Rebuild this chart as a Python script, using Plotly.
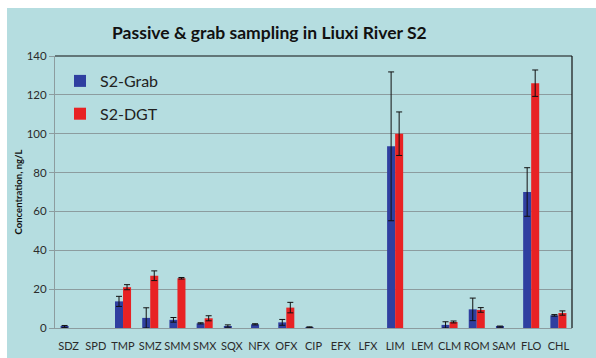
import plotly.graph_objects as go

# Compounds measured at site S2
compounds = ["SDZ", "SPD", "TMP", "SMZ", "SMM", "SMX", "SQX", "NFX", "OFX", "CIP",
             "EFX", "LFX", "LIM", "LEM", "CLM", "ROM", "SAM", "FLO", "CHL"]

# Mean concentrations (ng/L) and standard deviations; None = not detected
grab_mean = [0.8, None, 13.7, 5.2, 4.2, 2.4, 1.0, 1.9, 2.9, 0.4,
             None, None, 93.5, None, 1.6, 9.6, 0.7, 70.0, 6.5]
grab_sd = [0.5, None, 2.6, 5.2, 1.2, 0.3, 0.6, 0.3, 1.5, 0.2,
           None, None, 38.3, None, 1.6, 5.8, 0.3, 12.5, 0.4]
dgt_mean = [None, None, 21.0, 26.9, 25.6, 5.0, None, None, 10.5, None,
            None, None, 100.0, None, 3.1, 9.3, None, 126.0, 7.7]
dgt_sd = [None, None, 1.3, 2.5, 0.4, 1.3, None, None, 2.7, None,
          None, None, 11.2, None, 0.5, 1.2, None, 6.8, 1.1]

BG = "#b5dde0"
GRID = "#8c9c9f"
TXT = "#2b2b2b"
FONT = "Lato, Open Sans, sans-serif"

fig = go.Figure()
fig.add_trace(go.Bar(
    name="S2-Grab", x=compounds, y=grab_mean, marker_color="#2f3fa0",
    marker_line_width=0, legendgroup="g",
    error_y=dict(type="data", array=grab_sd, color="#111111", thickness=1, width=3),
))
fig.add_trace(go.Bar(
    name="S2-DGT", x=compounds, y=dgt_mean, marker_color="#e82224",
    marker_line_width=0, legendgroup="d",
    error_y=dict(type="data", array=dgt_sd, color="#111111", thickness=1, width=3),
))

W, H = 596, 358
L, R, T, B = 55, 24, 56, 30
pw = W - L - R
ph = H - T - B

fig.update_layout(
    width=W, height=H,
    margin=dict(l=L, r=R, t=T, b=B, pad=0, autoexpand=False),
    paper_bgcolor=BG,
    plot_bgcolor=BG,
    barmode="group",
    bargap=0.41,
    bargroupgap=0,
    font=dict(family=FONT, color=TXT),
    title=dict(
        text="<b>Passive & grab sampling in Liuxi River S2</b>",
        x=0.452, xanchor="center", y=1 - 33 / H, yanchor="middle",
        font=dict(size=17.5, color="#111111", family=FONT),
    ),
    legend=dict(
        x=(60 - L) / pw, y=1 - (8 / ph), xanchor="left", yanchor="top",
        bgcolor="rgba(0,0,0,0)", font=dict(size=16, color="#222222", family=FONT),
        tracegroupgap=9, itemwidth=30,
    ),
    showlegend=True,
    xaxis=dict(
        automargin=False, tickangle=0,
        showgrid=False, showline=True, linecolor=GRID, linewidth=1,
        ticks="", tickfont=dict(size=11, color=TXT), ticklabelstandoff=8,
    ),
    yaxis=dict(
        automargin=False,
        range=[0, 140], tickvals=[0, 20, 40, 60, 80, 100, 120, 140],
        showgrid=True, gridcolor=GRID, gridwidth=1.3,
        zeroline=True, zerolinecolor=GRID, zerolinewidth=1.3,
        showline=True, linecolor=GRID, linewidth=1,
        ticks="outside", ticklen=5, tickcolor=GRID,
        tickfont=dict(size=11.5, color=TXT),
        title=dict(text="<b>Concentration, ng/L</b>", font=dict(size=9.5, color="#111111"),
                   standoff=2),
    ),
    shapes=[
        # white page edge along the top and left
        dict(type="rect", xref="paper", yref="paper",
             x0=-L / pw - 0.01, x1=1 + R / pw + 0.01,
             y0=1 + (T - 8) / ph, y1=1 + T / ph + 0.01,
             fillcolor="white", line_width=0),
        dict(type="rect", xref="paper", yref="paper",
             x0=-L / pw - 0.01, x1=-(L - 7) / pw,
             y0=-B / ph - 0.01, y1=1 + T / ph + 0.01,
             fillcolor="white", line_width=0),
        # dark frame on top and right of the plot area
        dict(type="line", xref="paper", yref="paper", x0=0, x1=1, y0=1, y1=1,
             line=dict(color="#111111", width=1.2)),
        dict(type="line", xref="paper", yref="paper", x0=1, x1=1, y0=0, y1=1,
             line=dict(color="#111111", width=1.2)),
    ],
)

fig.write_html("out.html")
